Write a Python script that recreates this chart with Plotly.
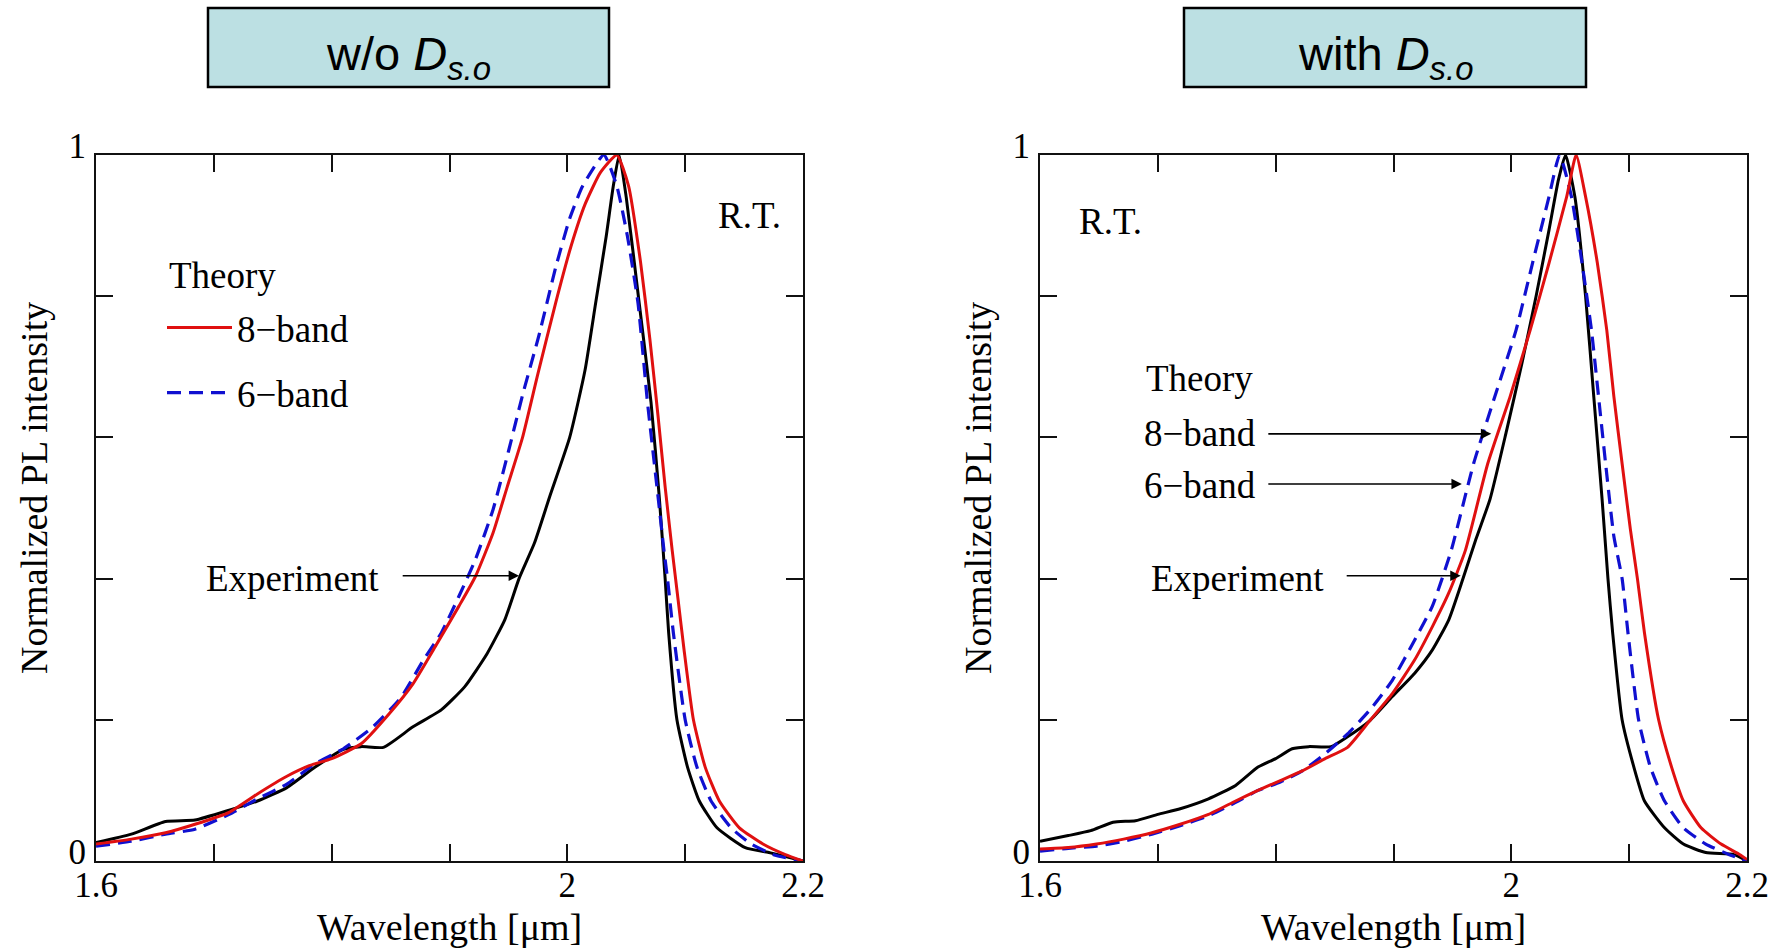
import plotly.graph_objects as go

# ---------------- data ----------------
# Left panel: w/o D_s.o
L_exp_x = [1.600, 1.630, 1.659, 1.684, 1.713, 1.737, 1.762, 1.786, 1.810, 1.825, 1.844, 1.869, 1.893, 1.913,
           1.932, 1.947, 1.959, 1.972, 1.985, 2.002, 2.015, 2.024, 2.033, 2.039, 2.044, 2.050, 2.061, 2.071,
           2.078, 2.083, 2.086, 2.093, 2.102, 2.112, 2.127, 2.151, 2.171, 2.200]
L_exp_y = [0.026, 0.038, 0.056, 0.058, 0.072, 0.085, 0.104, 0.133, 0.158, 0.162, 0.161, 0.190, 0.214, 0.247,
           0.294, 0.342, 0.400, 0.450, 0.516, 0.600, 0.695, 0.790, 0.885, 0.956, 1.000, 0.940, 0.790, 0.650,
           0.516, 0.400, 0.323, 0.200, 0.133, 0.085, 0.047, 0.019, 0.012, 0.000]

L_8_x = [1.600, 1.630, 1.659, 1.684, 1.713, 1.737, 1.762, 1.781, 1.800, 1.825, 1.849, 1.869, 1.888, 1.908,
         1.922, 1.937, 1.949, 1.962, 1.975, 1.990, 2.003, 2.015, 2.028, 2.042, 2.052, 2.062, 2.070, 2.077,
         2.083, 2.089, 2.094, 2.099, 2.107, 2.117, 2.129, 2.146, 2.166, 2.185, 2.200]
L_8_y = [0.024, 0.031, 0.040, 0.052, 0.069, 0.095, 0.120, 0.135, 0.145, 0.166, 0.209, 0.251, 0.304, 0.361,
         0.403, 0.465, 0.530, 0.600, 0.690, 0.790, 0.870, 0.930, 0.975, 1.000, 0.956, 0.850, 0.740, 0.630,
         0.530, 0.440, 0.370, 0.300, 0.200, 0.133, 0.085, 0.047, 0.024, 0.009, 0.000]

L_6_x = [1.600, 1.630, 1.659, 1.684, 1.713, 1.737, 1.762, 1.786, 1.810, 1.835, 1.859, 1.878, 1.893, 1.908,
         1.922, 1.937, 1.950, 1.962, 1.976, 1.990, 2.002, 2.013, 2.031, 2.042, 2.051, 2.060, 2.068, 2.077,
         2.082, 2.085, 2.090, 2.100, 2.110, 2.122, 2.139, 2.156, 2.175, 2.200]
L_6_y = [0.021, 0.028, 0.038, 0.045, 0.066, 0.088, 0.109, 0.138, 0.159, 0.190, 0.232, 0.285, 0.323, 0.375,
         0.427, 0.498, 0.580, 0.660, 0.745, 0.840, 0.910, 0.956, 1.000, 0.956, 0.885, 0.790, 0.650, 0.516,
         0.440, 0.400, 0.323, 0.200, 0.133, 0.085, 0.047, 0.024, 0.009, 0.000]

# Right panel: with D_s.o
R_exp_x = [1.600, 1.624, 1.643, 1.662, 1.681, 1.700, 1.719, 1.743, 1.766, 1.785, 1.800, 1.814, 1.828, 1.847,
           1.861, 1.880, 1.899, 1.918, 1.933, 1.947, 1.959, 1.970, 1.982, 1.996, 2.009, 2.021, 2.032, 2.040,
           2.046, 2.054, 2.063, 2.070, 2.077, 2.082, 2.086, 2.094, 2.104, 2.113, 2.130, 2.146, 2.165, 2.189, 2.200]
R_exp_y = [0.028, 0.036, 0.043, 0.055, 0.057, 0.066, 0.074, 0.088, 0.107, 0.133, 0.145, 0.159, 0.162, 0.162,
           0.176, 0.199, 0.233, 0.266, 0.299, 0.342, 0.400, 0.456, 0.513, 0.610, 0.705, 0.800, 0.894, 0.965,
           1.000, 0.940, 0.800, 0.657, 0.513, 0.400, 0.323, 0.200, 0.133, 0.085, 0.047, 0.024, 0.012, 0.009, 0.000]

R_8_x = [1.600, 1.624, 1.648, 1.671, 1.695, 1.719, 1.743, 1.766, 1.785, 1.804, 1.823, 1.842, 1.861, 1.880,
         1.899, 1.918, 1.933, 1.947, 1.961, 1.980, 1.999, 2.016, 2.032, 2.047, 2.055, 2.063, 2.073, 2.081,
         2.087, 2.094, 2.101, 2.107, 2.113, 2.125, 2.136, 2.146, 2.161, 2.178, 2.194, 2.200]
R_8_y = [0.017, 0.019, 0.024, 0.031, 0.040, 0.052, 0.066, 0.085, 0.100, 0.114, 0.128, 0.145, 0.161, 0.199,
         0.237, 0.285, 0.332, 0.380, 0.440, 0.563, 0.658, 0.752, 0.847, 0.941, 1.000, 0.941, 0.847, 0.752,
         0.658, 0.563, 0.470, 0.400, 0.323, 0.200, 0.133, 0.085, 0.047, 0.024, 0.009, 0.002]

R_6_x = [1.600, 1.624, 1.648, 1.671, 1.695, 1.719, 1.743, 1.766, 1.785, 1.804, 1.823, 1.842, 1.861, 1.880,
         1.899, 1.918, 1.933, 1.949, 1.968, 1.986, 2.004, 2.018, 2.032, 2.041, 2.051, 2.060, 2.068, 2.074,
         2.080, 2.087, 2.094, 2.099, 2.108, 2.118, 2.130, 2.146, 2.165, 2.185, 2.200]
R_6_y = [0.014, 0.018, 0.021, 0.028, 0.038, 0.050, 0.064, 0.083, 0.100, 0.112, 0.128, 0.152, 0.180, 0.214,
         0.256, 0.313, 0.361, 0.440, 0.563, 0.658, 0.752, 0.847, 0.941, 1.000, 0.941, 0.847, 0.752, 0.658,
         0.563, 0.460, 0.400, 0.323, 0.200, 0.133, 0.085, 0.047, 0.024, 0.009, 0.000]

x_tickvals = [1.6, 2.0, 2.2]
x_ticktext = ["1.6", "2", "2.2"]
y_tickvals = [0, 1.0]
y_ticktext = ["0", "1"]

panel_titles = ["w/o <i>D</i><sub><i>s.o</i></sub>", "with <i>D</i><sub><i>s.o</i></sub>"]
x_title = "Wavelength [μm]"
y_title = "Normalized PL intensity"

# ---------------- styling ----------------
SERIF = "Liberation Serif"
SANS = "Liberation Sans, Arial"
RED = "#E01010"
BLUE = "#1010D0"
BLACK = "#000000"
BOXFILL = "#BCE0E3"

W, H = 1779, 950
XDOM = [[96 / W, 803 / W], [1040 / W, 1747 / W]]
YDOM = [1 - 861 / H, 1 - 155 / H]

fig = go.Figure()

def add_panel(i, ex, ey, r8x, r8y, r6x, r6y, legend):
    xa = "x" if i == 0 else "x2"
    ya = "y" if i == 0 else "y2"
    fig.add_trace(go.Scatter(x=ex, y=ey, mode="lines", xaxis=xa, yaxis=ya,
                             line=dict(color=BLACK, width=3, shape="spline", smoothing=0.5),
                             showlegend=False, name="Experiment"))
    fig.add_trace(go.Scatter(x=r6x, y=r6y, mode="lines", xaxis=xa, yaxis=ya,
                             line=dict(color=BLUE, width=3.2, dash="14px,8px", shape="spline", smoothing=0.5),
                             showlegend=legend, name="6\u2212band", legendrank=2, legendgroup="g6"))
    fig.add_trace(go.Scatter(x=r8x, y=r8y, mode="lines", xaxis=xa, yaxis=ya,
                             line=dict(color=RED, width=3, shape="spline", smoothing=0.5),
                             showlegend=legend, name="8\u2212band", legendrank=1, legendgroup="g8"))

add_panel(0, L_exp_x, L_exp_y, L_8_x, L_8_y, L_6_x, L_6_y, True)
add_panel(1, R_exp_x, R_exp_y, R_8_x, R_8_y, R_6_x, R_6_y, False)

axis_common = dict(showline=True, linecolor="#111", linewidth=2, mirror="ticks",
                   ticks="inside", ticklen=17, tickwidth=1.5, tickcolor="#111",
                   showgrid=False, zeroline=False, fixedrange=True, automargin=False,
                   tickfont=dict(family=SERIF, size=35, color="black"))

for i in range(2):
    sx = "" if i == 0 else "2"
    fig.update_layout(**{
        "xaxis" + sx: dict(axis_common, domain=XDOM[i], range=[1.6, 2.2], tickmode="array",
                           tickvals=x_tickvals, ticktext=x_ticktext, ticklabelstandoff=-8,
                           minor=dict(tick0=1.6, dtick=0.1, ticks="inside", ticklen=17, tickwidth=1.5,
                                      tickcolor="#111"),
                           anchor="y" + sx),
        "yaxis" + sx: dict(axis_common, domain=YDOM, range=[0, 1], tickmode="array",
                           tickvals=y_tickvals, ticktext=y_ticktext, ticklabelstandoff=1,
                           ticklabelshift=-9,
                           minor=dict(tick0=0, dtick=0.2, ticks="inside", ticklen=17, tickwidth=1.5,
                                      tickcolor="#111"),
                           anchor="x" + sx),
    })

annotations = []
shapes = []
# title boxes
boxes = [(208 / W, 609 / W), (1184 / W, 1586 / W)]
for i, (x0, x1) in enumerate(boxes):
    shapes.append(dict(type="rect", xref="paper", yref="paper", x0=x0, x1=x1, y0=1 - 87 / H, y1=1 - 8 / H,
                       fillcolor=BOXFILL, line=dict(color="black", width=2.5), layer="below"))
    annotations.append(dict(xref="paper", yref="paper", x=(x0 + x1) / 2, y=1 - 57 / H, text=panel_titles[i],
                            showarrow=False, xanchor="center", yanchor="middle",
                            font=dict(family=SANS, size=47, color="black")))
# axis titles
for i in range(2):
    cx = (XDOM[i][0] + XDOM[i][1]) / 2
    annotations.append(dict(xref="paper", yref="paper", x=cx, y=1 - 927 / H, text=x_title, showarrow=False,
                            xanchor="center", yanchor="middle", font=dict(family=SERIF, size=38, color="black")))
    annotations.append(dict(xref="paper", yref="paper", x=[34 / W, 978 / W][i], y=1 - 488 / H, text=y_title,
                            showarrow=False, textangle=-90, xanchor="center", yanchor="middle",
                            font=dict(family=SERIF, size=38, color="black")))

tf = dict(family=SERIF, size=37, color="black")
# left panel labels
annotations += [
    dict(xref="x", yref="y", x=2.1265, y=0.915, text="R.T.", showarrow=False, xanchor="left", yanchor="middle", font=tf),
    dict(xref="x", yref="y", x=1.660, y=0.830, text="Theory", showarrow=False, xanchor="left", yanchor="middle", font=tf),
    dict(xref="x", yref="y", x=1.842, y=0.400, text="Experiment", showarrow=False, xanchor="right", yanchor="middle", font=tf),
    dict(xref="x", yref="y", axref="x", ayref="y", x=1.959, y=0.404, ax=1.859, ay=0.404, text="",
         showarrow=True, arrowhead=2, arrowsize=1.3, arrowwidth=1.6, arrowcolor="black"),
]
# right panel labels
annotations += [
    dict(xref="x2", yref="y2", x=1.631, y=0.906, text="R.T.", showarrow=False, xanchor="left", yanchor="middle", font=tf),
    dict(xref="x2", yref="y2", x=1.688, y=0.683, text="Theory", showarrow=False, xanchor="left", yanchor="middle", font=tf),
    dict(xref="x2", yref="y2", x=1.7846, y=0.605, text="8\u2212band", showarrow=False, xanchor="right", yanchor="middle", font=tf),
    dict(xref="x2", yref="y2", x=1.7846, y=0.532, text="6\u2212band", showarrow=False, xanchor="right", yanchor="middle", font=tf),
    dict(xref="x2", yref="y2", x=1.843, y=0.400, text="Experiment", showarrow=False, xanchor="right", yanchor="middle", font=tf),
    dict(xref="x2", yref="y2", axref="x2", ayref="y2", x=1.983, y=0.605, ax=1.7925, ay=0.605, text="",
         showarrow=True, arrowhead=2, arrowsize=1.3, arrowwidth=1.6, arrowcolor="black"),
    dict(xref="x2", yref="y2", axref="x2", ayref="y2", x=1.958, y=0.534, ax=1.7925, ay=0.534, text="",
         showarrow=True, arrowhead=2, arrowsize=1.3, arrowwidth=1.6, arrowcolor="black"),
    dict(xref="x2", yref="y2", axref="x2", ayref="y2", x=1.957, y=0.404, ax=1.859, ay=0.404, text="",
         showarrow=True, arrowhead=2, arrowsize=1.3, arrowwidth=1.6, arrowcolor="black"),
]

fig.update_layout(
    width=W, height=H, margin=dict(l=0, r=0, t=0, b=0, autoexpand=False),
    paper_bgcolor="white", plot_bgcolor="white",
    annotations=annotations, shapes=shapes,
    showlegend=True,
    legend=dict(x=162 / W, y=1 - 297 / H, xanchor="left", yanchor="top", bgcolor="rgba(0,0,0,0)",
                borderwidth=0, font=dict(family=SERIF, size=37, color="black"),
                itemwidth=65, tracegroupgap=14, traceorder="grouped"),
    hovermode=False,
)

fig.write_html("out.html")
